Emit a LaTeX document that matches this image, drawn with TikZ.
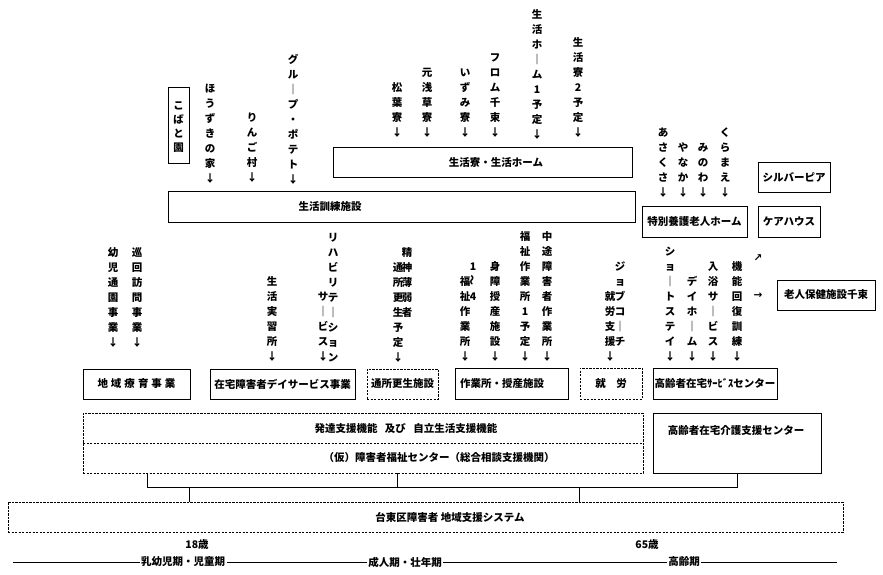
\documentclass[tikz,border=0pt]{standalone}
\usepackage{fontspec}
\setmainfont{Noto Sans CJK JP}
\newfontfamily\symfont{DejaVu Sans}
\usetikzlibrary{positioning}

% vertical text, one character per row
\newcommand\tatestep{15pt}
\newcommand\tate[1]{\vbox{\baselineskip=\tatestep\lineskiplimit=-20pt\lineskip=0pt\expandafter\tatex#1\relax}}
\def\tatex#1{\ifx#1\relax\else\hbox to 1em{\hss#1\hss\vrule height .88em depth .12em width 0pt}\expandafter\tatex\fi}
\newcommand\tatenami{\rotatebox{90}{～}}

\begin{document}
\begin{tikzpicture}[x=1pt, y=-1pt]
    % ------- style -------
    \tikzset{%
        every node/.style={font=\fontsize{10.5}{12.6}\selectfont\bfseries, inner sep=0pt, outer sep=0pt},
        box/.style={draw, line width=1pt},
        box dashed/.style={box, dash pattern=on 2.2pt off 1.3pt},
        tate/.style={anchor=north, yshift=5.25pt},
        on line/.style={fill=white, inner xsep=1.5pt},
    }
    \useasboundingbox (0,0) rectangle (883,575);

    % ------- housing -------
    \node[box, minimum width=21, minimum height=75] (kobato) at (178.5,125.5) {};
    \node[tate] (kobato-t) at (178.5,106) {\def\tatestep{14pt}\tate{こばと園}};

    \node[box, minimum width=467, minimum height=31] (kunren) at (401.5,206.5) {};
    \node (kunren-t) at (330,207) {生活訓練施設};
    \node[box, minimum width=299, minimum height=30] (ryou) at (482.5,162) {};
    \node (ryou-t) at (496,162) {生活寮・生活ホーム};

    \node[box, minimum width=105, minimum height=31] (tokuyou) at (694.5,221.5) {特別養護老人ホーム};
    \node[box, minimum width=72, minimum height=30] (silver) at (794,177) {シルバーピア};
    \node[box, minimum width=62, minimum height=31] (care) at (789,221.5) {ケアハウス};

    \foreach \x/\y/\word [count=\i] in {
        210/89/ほうずきの家↓, 252/118/りんご村↓, 293/60/グル｜プ・ポテト↓,
        397/88/松葉寮↓, 427/73/元浅草寮↓, 465/73/いずみ寮↓, 495/58/フロム千束↓,
        537/15/生活ホ｜ム1予定↓, 578/43/生活寮2予定↓,
        663/133/あさくさ↓, 683/148/やなか↓, 703/148/みのわ↓, 725/133/くらまえ↓} {
        \node[tate] (top-\i) at (\x,\y) {\tate{\word}};
    }

    % ------- day services -------
    \foreach \x/\y/\word [count=\i] in {
        113/253/幼児通園事業↓, 137/253/巡回訪問事業↓, 272/282/生活実習所↓,
        333/238/リハビリテ｜ション, 323/297/サ｜ビス↓,
        407/253/精神薄弱者, 398/268/通所更生予定↓,
        473/267/1\tatenami4, 465/282/福祉作業所↓, 495/267/身障授産施設↓,
        525/237/福祉作業所1予定↓, 547/237/中途障害者作業所↓,
        620/267/ジョブコ｜チ, 610/297/就労支援↓,
        670/252/ショ｜トステイ↓, 692/282/デイホ｜ム↓, 713/267/入浴サ｜ビス↓, 737/267/機能回復訓練↓} {
        \node[tate] (mid-\i) at (\x,\y) {\tate{\word}};
    }

    \node (up-arrow) at (758,258) {\symfont ↗};
    \node (right-arrow) at (758,296) {\symfont →};
    \node[box, minimum width=98, minimum height=30] (roken) at (826,295) {老人保健施設千束};

    \node[box, minimum width=107, minimum height=30] (ryouiku) at (136.5,384) {地\kern3pt 域\kern3pt 療\kern3pt 育\kern3pt 事\kern3pt 業};
    \node[box, minimum width=145, minimum height=30] (day) at (282.5,384) {在宅障害者デイサービス事業};
    \node[box dashed, minimum width=71, minimum height=30] (tsusho) at (402.5,384) {通所更生施設};
    \node[box, minimum width=113, minimum height=31] (sagyo) at (511.5,383.5) {};
    \node (sagyo-t) at (502,384) {作業所・授産施設};
    \node[box dashed, minimum width=62, minimum height=31] (shuro) at (611,383.5) {就　労};
    \node[box, minimum width=124, minimum height=31] (zaitaku) at (715,383.5) {高齢者在宅ｻｰﾋﾞｽセンター};

    % ------- support system -------
    \node[box dashed, minimum width=560, minimum height=60] (hattatsu) at (363,443) {};
    \draw[dash pattern=on 2.2pt off 1.3pt, line width=1pt] (hattatsu.west) -- (hattatsu.east);
    \node (hattatsu-t) at (406,428) {発達支援機能\hspace{.7em}及び\hspace{.7em}自立生活支援機能};
    \node (center-t) at (439,458) {（仮）障害者福祉センター（総合相談支援機関）};

    \node[box, minimum width=168, minimum height=60] (kaigo) at (737,443) {};
    \node (kaigo-t) at (736,430) {高齢者在宅介護支援センター};

    \node[box dashed, minimum width=835, minimum height=30] (shien) at (425.5,517) {};
    \node (shien-t) at (450,517) {台東区障害者 地域支援システム};

    \coordinate (bus-l) at (147,487);
    \coordinate (bus-m) at (397,487);
    \coordinate (bus-r) at (737,487);
    \coordinate (tick-a) at (189,487);
    \coordinate (tick-b) at (579,487);
    \draw[line width=1pt]
        (hattatsu.south -| bus-l) -- (bus-l) -- (bus-r) -- (kaigo.south -| bus-r)
        (hattatsu.south -| bus-m) -- (bus-m)
        (tick-a) -- (tick-a |- shien.north)
        (tick-b) -- (tick-b |- shien.north);

    % ------- life stages -------
    \coordinate (life-start) at (13,562);
    \coordinate (life-end) at (837,562);
    \draw[line width=.8pt] (life-start) -- (life-end);
    \node (age-18) at (197,545) {18歳};
    \node (age-65) at (647,545) {65歳};
    \node[on line] (child) at (183,562) {乳幼児期・児童期};
    \node[on line] (adult) at (405,562) {成人期・壮年期};
    \node[on line] (elder) at (684,562) {高齢期};
\end{tikzpicture}
\end{document}
